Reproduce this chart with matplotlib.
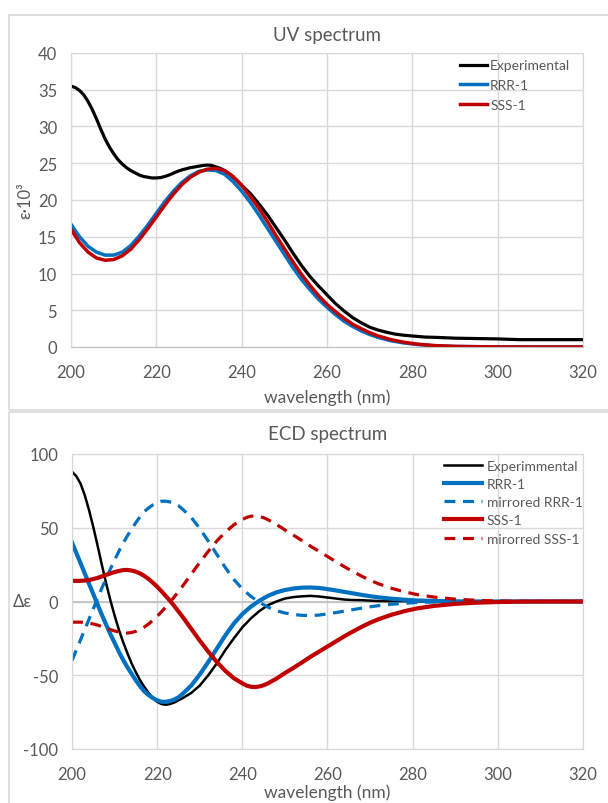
import numpy as np
import matplotlib.pyplot as plt
from matplotlib.patches import Rectangle

plt.rcParams['font.family'] = ['Lato', 'DejaVu Sans']
plt.rcParams['axes.unicode_minus'] = False

# ---- UV data ----
uv_exp_x = [200, 201, 202, 203, 204, 205, 206, 207, 208, 209, 210, 211, 212, 213, 214, 215,
            216, 217, 218, 219, 220, 221, 222, 223, 224, 225, 226, 227, 228, 229, 230, 231,
            232, 233, 234, 235, 236, 237, 238, 239, 240, 242, 244, 246, 248, 250, 252, 254,
            256, 258, 260, 262, 264, 266, 268, 270, 272, 274, 276, 278, 280, 283, 286, 290,
            295, 300, 305, 310, 315, 320]
uv_exp_y = [35.5, 35.3, 34.9, 34.3, 33.4, 32.3, 31.0, 29.6, 28.3, 27.2, 26.3, 25.5, 24.9,
            24.4, 24.0, 23.7, 23.4, 23.2, 23.1, 23.0, 23.0, 23.05, 23.2, 23.4, 23.65, 23.9,
            24.1, 24.25, 24.4, 24.5, 24.6, 24.7, 24.75, 24.7, 24.5, 24.3, 24.0, 23.6, 23.1,
            22.6, 22.0, 20.9, 19.5, 18.0, 16.3, 14.6, 12.8, 11.1, 9.6, 8.3, 7.1, 5.9, 4.9,
            4.0, 3.3, 2.7, 2.3, 2.0, 1.75, 1.6, 1.5, 1.35, 1.3, 1.2, 1.15, 1.1, 1.0, 1.0,
            1.0, 1.0]

uv_calc_x = [200, 202, 204, 206, 208, 210, 212, 214, 216, 218, 220, 222, 224, 226, 228, 230,
             232, 234, 236, 238, 240, 242, 244, 246, 248, 250, 252, 254, 256, 258, 260, 262,
             264, 266, 268, 270, 272, 275, 278, 281, 285, 290, 300, 310, 320]
uv_rrr = [16.7, 15.0, 13.7, 12.9, 12.5, 12.5, 12.9, 13.8, 15.1, 16.6, 18.2, 19.8, 21.2, 22.4,
          23.3, 23.9, 24.1, 24.0, 23.5, 22.5, 21.2, 19.7, 18.0, 16.2, 14.4, 12.6, 10.8, 9.2,
          7.8, 6.5, 5.4, 4.4, 3.5, 2.8, 2.2, 1.7, 1.3, 0.85, 0.55, 0.35, 0.18, 0.07, 0.01,
          0.0, 0.0]
uv_sss = [16.0, 14.2, 12.9, 12.1, 11.8, 11.9, 12.4, 13.3, 14.6, 16.1, 17.7, 19.3, 20.8, 22.1,
          23.1, 23.8, 24.2, 24.3, 24.0, 23.2, 22.0, 20.5, 18.9, 17.1, 15.2, 13.4, 11.6, 9.9,
          8.4, 7.0, 5.8, 4.8, 3.9, 3.1, 2.5, 1.95, 1.5, 1.0, 0.65, 0.4, 0.2, 0.08, 0.01,
          0.0, 0.0]

# ---- ECD data ----
ecd_exp_x = [200, 201, 202, 203, 204, 205, 206, 207, 208, 209, 210, 211, 212, 213, 214, 215,
             216, 217, 218, 219, 220, 221, 222, 223, 224, 225, 226, 228, 230, 232, 234, 236,
             238, 240, 242, 244, 246, 248, 250, 252, 254, 256, 258, 260, 262, 264, 266, 268,
             270, 272, 275, 278, 281, 284]
ecd_exp_y = [88, 85, 80, 72, 62, 50.5, 38, 25, 12.5, 1, -9.5, -19, -27.5, -35, -42, -48,
             -53.5, -58, -62, -65.5, -68, -69.5, -70, -69.5, -68.5, -67, -65.5, -62, -57, -50,
             -42, -33, -25, -17.5, -11.5, -6.5, -2.5, 0, 2, 3, 3.5, 3.8, 3.4, 2.7, 2, 1.3,
             1.0, 0.9, 0.6, 0.3, 0.2, 0.2, 0.1, 0]

ecd_rrr_x = [200, 201, 202, 203, 204, 205, 206, 207, 208, 209, 210, 211, 212, 213, 214, 215,
             216, 217, 218, 219, 220, 221, 222, 223, 224, 225, 226, 228, 230, 232, 234, 236,
             238, 240, 242, 244, 246, 248, 250, 252, 254, 256, 258, 260, 262, 264, 266, 268,
             270, 272, 275, 278, 281, 285, 290, 295, 300, 310, 320]
ecd_rrr = [40, 33, 26, 19, 12, 5, -2, -9, -15.5, -22, -28, -34, -39.5, -44.5, -49, -53.5,
           -57.5, -61, -63.5, -65.5, -67, -68, -68, -67.5, -66.5, -65, -62.5, -57, -49.5,
           -41, -32, -23, -15, -8.5, -3.5, 0.5, 3.8, 6.2, 7.8, 8.8, 9.4, 9.5, 9.2, 8.4, 7.5,
           6.5, 5.5, 4.5, 3.6, 2.8, 1.9, 1.2, 0.7, 0.35, 0.12, 0.04, 0.0, 0.0, 0.0]

ecd_sss_x = [200, 202, 204, 206, 208, 210, 212, 213, 214, 215, 216, 217, 218, 219, 220, 221,
             222, 223, 224, 226, 228, 230, 232, 234, 236, 238, 240, 241, 242, 243, 244, 245,
             246, 248, 250, 252, 254, 256, 258, 260, 262, 264, 266, 268, 270, 272, 275, 278,
             281, 285, 290, 295, 300, 305, 310, 320]
ecd_sss = [14, 14, 14.5, 16, 18, 20, 21.3, 21.4, 21, 20.2, 19, 17.3, 15.2, 12.7, 10, 7, 3.8,
           0.5, -3, -10.5, -18.5, -26.5, -34, -41, -47, -52, -55.5, -57, -57.8, -58, -57.6,
           -56.8, -55.5, -52.3, -48.5, -45, -41.3, -37.5, -34, -30.5, -27, -23.5, -20.3, -17.2,
           -14.4, -12, -9, -6.6, -4.7, -3, -1.6, -0.8, -0.35, -0.1, 0.0, 0.0]

ecd_rrr_mirror = [-v for v in ecd_rrr]
ecd_sss_mirror = [-v for v in ecd_sss]

BLUE = '#0070C0'
RED = '#C00000'
TXT = '#595959'
GRID = '#D9D9D9'

fig = plt.figure(figsize=(6.08, 8.04), dpi=100)

# chart area frames
fig.patches.append(Rectangle((9 / 608, 1 - 411 / 804), 1.0, (411 - 16) / 804,
                             transform=fig.transFigure, fill=False,
                             edgecolor='#D9D9D9', lw=1.2))
fig.patches.append(Rectangle((9 / 608, -0.01), 1.0, 1 - 413 / 804 + 0.01,
                             transform=fig.transFigure, fill=False,
                             edgecolor='#D9D9D9', lw=1.2))


def style(ax):
    ax.set_xlim(200, 320)
    ax.set_xticks(np.arange(200, 321, 20))
    ax.grid(True, color=GRID, lw=1)
    ax.set_axisbelow(True)
    for s in ax.spines.values():
        s.set_color(GRID)
    ax.tick_params(length=0, labelsize=12, labelcolor=TXT)
    ax.tick_params(axis='x', pad=12)
    ax.tick_params(axis='y', pad=10)


# ---- UV ----
ax1 = fig.add_axes([71 / 608, 1 - 348 / 804, 512 / 608, 294 / 804])
style(ax1)
ax1.set_ylim(0, 40)
ax1.set_yticks(np.arange(0, 41, 5))
ax1.spines['bottom'].set_color('#BFBFBF')
ax1.plot(uv_exp_x, uv_exp_y, color='black', lw=2.3, label='Experimental')
ax1.plot(uv_calc_x, uv_rrr, color=BLUE, lw=2.5, label='RRR-1')
ax1.plot(uv_calc_x, uv_sss, color=RED, lw=2.5, label='SSS-1')
ax1.set_title('UV spectrum', fontsize=13.5, color=TXT, pad=9)
ax1.set_xlabel('wavelength (nm)', fontsize=12.5, color=TXT, labelpad=6)
ax1.set_ylabel('ε·10³', fontsize=12, color=TXT, labelpad=3)
ax1.legend(loc='upper left', bbox_to_anchor=(0.748, 0.997), frameon=False, fontsize=10,
           handlelength=2.0, handletextpad=0.2, labelspacing=0.55, borderaxespad=0,
           labelcolor=TXT)

# ---- ECD ----
ax2 = fig.add_axes([72 / 608, 1 - 750 / 804, 511 / 608, 295 / 804])
style(ax2)
ax2.set_ylim(-100, 100)
ax2.set_yticks([-100, -50, 0, 50, 100])
ax2.axhline(0, color='#BFBFBF', lw=1.2, zorder=1)
ax2.plot(ecd_exp_x, ecd_exp_y, color='black', lw=1.8, label='Experimmental')
ax2.plot(ecd_rrr_x, ecd_rrr, color=BLUE, lw=3.0, label='RRR-1')
ax2.plot(ecd_rrr_x, ecd_rrr_mirror, color=BLUE, lw=2.3, dashes=(3.4, 2.4),
         label='mirrored RRR-1')
ax2.plot(ecd_sss_x, ecd_sss, color=RED, lw=3.0, label='SSS-1')
ax2.plot(ecd_sss_x, ecd_sss_mirror, color=RED, lw=2.3, dashes=(3.4, 2.4),
         label='mirorred SSS-1')
ax2.set_title('ECD spectrum', fontsize=13.5, color=TXT, pad=11)
ax2.set_xlabel('wavelength (nm)', fontsize=12.5, color=TXT, labelpad=1)
ax2.set_ylabel('Δε', fontsize=12, color=TXT, rotation=0, va='center', ha='center')
ax2.yaxis.set_label_coords(-0.098, 0.5)
ax2.legend(loc='upper left', bbox_to_anchor=(0.718, 1.0), frameon=False, fontsize=10,
           handlelength=2.7, handletextpad=0.35, labelspacing=0.45, borderaxespad=0,
           labelcolor=TXT)

fig.savefig('out.png', dpi=100)
